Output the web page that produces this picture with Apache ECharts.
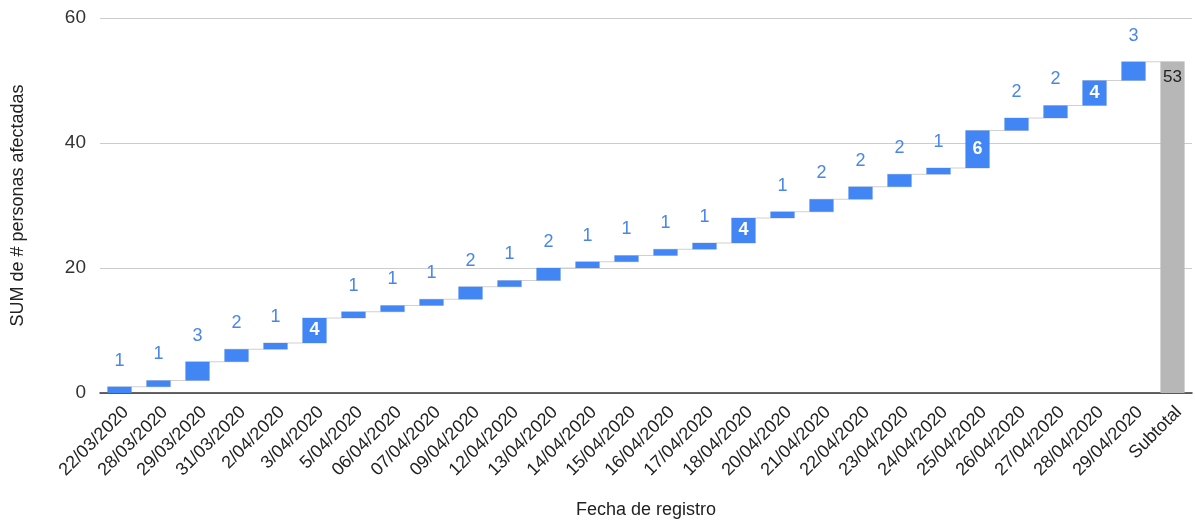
<!DOCTYPE html>
<html>
<head>
<meta charset="utf-8">
<script src="https://cdn.jsdelivr.net/npm/echarts@6/dist/echarts.min.js"></script>
<style>html,body{margin:0;padding:0;background:#fff}#c{width:1195px;height:522px}</style>
</head>
<body>
<div id="c"></div>
<script>
const categories = ['22/03/2020','28/03/2020','29/03/2020','31/03/2020','2/04/2020','3/04/2020','5/04/2020','06/04/2020','07/04/2020','09/04/2020','12/04/2020','13/04/2020','14/04/2020','15/04/2020','16/04/2020','17/04/2020','18/04/2020','20/04/2020','21/04/2020','22/04/2020','23/04/2020','24/04/2020','25/04/2020','26/04/2020','27/04/2020','28/04/2020','29/04/2020'];
const values = [1,1,3,2,1,4,1,1,1,2,1,2,1,1,1,1,4,1,2,2,2,1,6,2,2,4,3];
const subtotalLabel = 'Subtotal';
const yTicks = [0,20,40,60];

const allCats = categories.concat([subtotalLabel]);
const bases = [];
let run = 0;
values.forEach(v => { bases.push(run); run += v; });
const total = run;

const baseData = bases.concat([0]);
const deltaData = values.map((v, i) => ({
  value: v,
  label: v >= 4
    ? { position: 'inside', color: '#fff', fontWeight: 'bold', fontSize: 18 }
    : { position: 'top', distance: 17, color: '#4a86e8', fontSize: 18 }
}));
deltaData.push({
  value: total,
  itemStyle: { color: '#b7b7b7' },
  label: { position: 'insideTop', distance: 7, color: '#222', fontSize: 17 }
});
const connData = [];
for (let i = 0; i < allCats.length - 1; i++) {
  connData.push([i, bases[i] + values[i]]);
}

const chart = echarts.init(document.getElementById('c'));
chart.setOption({
  animation: false,
  grid: { left: 100, right: 3, top: 18, bottom: 129, containLabel: false, outerBoundsMode: 'none' },
  xAxis: {
    type: 'category',
    data: allCats,
    axisLine: { lineStyle: { color: '#333', width: 1.5 } },
    axisTick: { show: false },
    axisLabel: { rotate: 45, interval: 0, fontSize: 18, color: '#222', fontFamily: 'Arial', margin: 10, verticalAlign: 'top' },
    name: 'Fecha de registro',
    nameLocation: 'middle',
    nameGap: 108,
    nameTextStyle: { fontSize: 18, color: '#222', fontFamily: 'Arial' }
  },
  yAxis: {
    type: 'value',
    min: yTicks[0], max: yTicks[yTicks.length - 1], interval: 20,
    axisLabel: { fontSize: 19, color: '#333', fontFamily: 'Arial', margin: 14 },
    splitLine: { lineStyle: { color: '#ccc' } },
    axisLine: { show: false },
    axisTick: { show: false },
    name: 'SUM de # personas afectadas',
    nameLocation: 'middle',
    nameGap: 73,
    nameTextStyle: { fontSize: 18, color: '#222', fontFamily: 'Arial' }
  },
  series: [
    {
      type: 'bar', stack: 'w', data: baseData, barWidth: '62%',
      itemStyle: { color: 'transparent' }, silent: true
    },
    {
      type: 'bar', stack: 'w', data: deltaData, barWidth: '62%',
      itemStyle: { color: '#4285f4' },
      label: { show: true, fontFamily: 'Arial' }
    },
    {
      type: 'custom',
      data: connData,
      z: 1,
      renderItem: function (params, api) {
        const i = api.value(0);
        const y = api.value(1);
        const p1 = api.coord([i, y]);
        const p2 = api.coord([i + 1, y]);
        const w = api.size([1, 0])[0];
        const half = w * 0.31;
        return {
          type: 'line',
          shape: { x1: p1[0] - half, y1: p1[1], x2: p2[0] + half, y2: p2[1] },
          style: { stroke: '#d0d0d0', lineWidth: 1 }
        };
      }
    }
  ]
});
</script>
</body>
</html>
